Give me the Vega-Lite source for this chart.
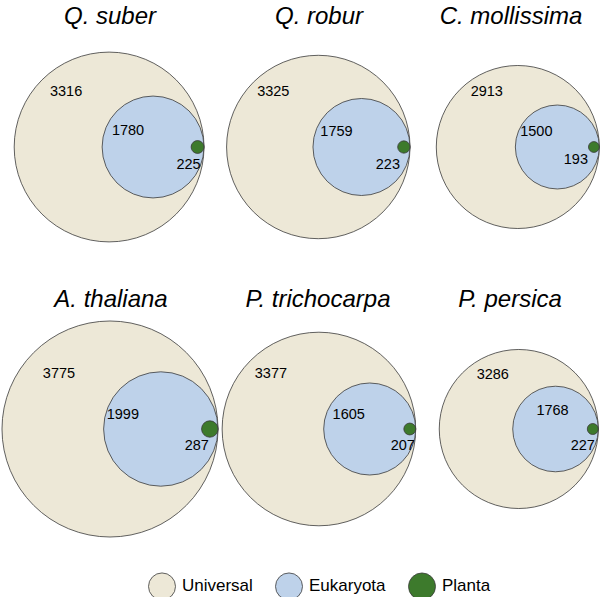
{
  "$schema": "https://vega.github.io/schema/vega-lite/v6.json",
  "padding": {"top": 5, "left": 0, "right": 0, "bottom": 0},
  "background": "white",
  "datasets": {
    "sets": [
      {"species": "Q. suber", "set": "Universal", "count": 3316},
      {"species": "Q. suber", "set": "Eukaryota", "count": 1780},
      {"species": "Q. suber", "set": "Planta", "count": 225},
      {"species": "Q. robur", "set": "Universal", "count": 3325},
      {"species": "Q. robur", "set": "Eukaryota", "count": 1759},
      {"species": "Q. robur", "set": "Planta", "count": 223},
      {"species": "C. mollissima", "set": "Universal", "count": 2913},
      {"species": "C. mollissima", "set": "Eukaryota", "count": 1500},
      {"species": "C. mollissima", "set": "Planta", "count": 193},
      {"species": "A. thaliana", "set": "Universal", "count": 3775},
      {"species": "A. thaliana", "set": "Eukaryota", "count": 1999},
      {"species": "A. thaliana", "set": "Planta", "count": 287},
      {"species": "P. trichocarpa", "set": "Universal", "count": 3377},
      {"species": "P. trichocarpa", "set": "Eukaryota", "count": 1605},
      {"species": "P. trichocarpa", "set": "Planta", "count": 207},
      {"species": "P. persica", "set": "Universal", "count": 3286},
      {"species": "P. persica", "set": "Eukaryota", "count": 1768},
      {"species": "P. persica", "set": "Planta", "count": 227}
    ]
  },
  "data": {"name": "sets"},
  "bounds": "flush",
  "columns": 3,
  "spacing": {"row": 45, "column": 0},
  "resolve": {"scale": {"x": "independent", "size": "independent", "color": "shared"}, "legend": {"color": "shared"}},
  "concat": [
    {
      "width": 200, "height": 238,
      "title": {"text": "Q. suber", "dx": 9},
      "transform": [{"filter": "datum.species === 'Q. suber'"}],
      "encoding": {"x": {"field": "count", "type": "quantitative", "axis": null, "scale": {"domain": [104.8, 7092.9], "reverse": true, "nice": false, "zero": false}}},
      "layer": [
        {"mark": {"type": "point", "shape": "circle", "filled": true, "opacity": 1, "stroke": "#3a3a3a", "strokeWidth": 0.8},
         "encoding": {
           "color": {"field": "set", "type": "nominal", "scale": {"domain": ["Universal", "Eukaryota", "Planta"], "range": ["#ede8d7", "#bed2ea", "#3d7a2c"]}, "legend": {"title": null}},
           "size": {"field": "count", "type": "quantitative", "legend": null, "scale": {"type": "pow", "exponent": 2, "domain": [0, 4000], "range": [0, 52423]}},
           "order": {"field": "count", "sort": "descending"}}},
        {"transform": [{"filter": "datum.set === 'Universal'"}], "mark": {"type": "text", "dx": -43, "dy": -55}, "encoding": {"text": {"field": "count", "type": "quantitative", "format": "d"}}},
        {"transform": [{"filter": "datum.set === 'Eukaryota'"}], "mark": {"type": "text", "dx": -25, "dy": -16}, "encoding": {"text": {"field": "count", "type": "quantitative", "format": "d"}}},
        {"transform": [{"filter": "datum.set === 'Planta'"}], "mark": {"type": "text", "dx": -9, "dy": 18}, "encoding": {"text": {"field": "count", "type": "quantitative", "format": "d"}}}
      ]
    },
    {
      "width": 200, "height": 238,
      "title": {"text": "Q. robur", "dx": 18},
      "transform": [{"filter": "datum.species === 'Q. robur'"}],
      "encoding": {"x": {"field": "count", "type": "quantitative", "axis": null, "scale": {"domain": [326.3, 7577.9], "reverse": true, "nice": false, "zero": false}}},
      "layer": [
        {"mark": {"type": "point", "shape": "circle", "filled": true, "opacity": 1, "stroke": "#3a3a3a", "strokeWidth": 0.8},
         "encoding": {
           "color": {"field": "set", "type": "nominal", "scale": {"domain": ["Universal", "Eukaryota", "Planta"], "range": ["#ede8d7", "#bed2ea", "#3d7a2c"]}, "legend": {"title": null}},
           "size": {"field": "count", "type": "quantitative", "legend": null, "scale": {"type": "pow", "exponent": 2, "domain": [0, 4000], "range": [0, 48682]}},
           "order": {"field": "count", "sort": "descending"}}},
        {"transform": [{"filter": "datum.set === 'Universal'"}], "mark": {"type": "text", "dx": -45, "dy": -55}, "encoding": {"text": {"field": "count", "type": "quantitative", "format": "d"}}},
        {"transform": [{"filter": "datum.set === 'Eukaryota'"}], "mark": {"type": "text", "dx": -25, "dy": -15}, "encoding": {"text": {"field": "count", "type": "quantitative", "format": "d"}}},
        {"transform": [{"filter": "datum.set === 'Planta'"}], "mark": {"type": "text", "dx": -16, "dy": 18}, "encoding": {"text": {"field": "count", "type": "quantitative", "format": "d"}}}
      ]
    },
    {
      "width": 200, "height": 238,
      "title": {"text": "C. mollissima", "dx": 10},
      "transform": [{"filter": "datum.species === 'C. mollissima'"}],
      "encoding": {"x": {"field": "count", "type": "quantitative", "axis": null, "scale": {"domain": [-60.8, 7087.2], "reverse": true, "nice": false, "zero": false}}},
      "layer": [
        {"mark": {"type": "point", "shape": "circle", "filled": true, "opacity": 1, "stroke": "#3a3a3a", "strokeWidth": 0.8},
         "encoding": {
           "color": {"field": "set", "type": "nominal", "scale": {"domain": ["Universal", "Eukaryota", "Planta"], "range": ["#ede8d7", "#bed2ea", "#3d7a2c"]}, "legend": {"title": null}},
           "size": {"field": "count", "type": "quantitative", "legend": null, "scale": {"type": "pow", "exponent": 2, "domain": [0, 4000], "range": [0, 50104]}},
           "order": {"field": "count", "sort": "descending"}}},
        {"transform": [{"filter": "datum.set === 'Universal'"}], "mark": {"type": "text", "dx": -31, "dy": -55}, "encoding": {"text": {"field": "count", "type": "quantitative", "format": "d"}}},
        {"transform": [{"filter": "datum.set === 'Eukaryota'"}], "mark": {"type": "text", "dx": -21, "dy": -15}, "encoding": {"text": {"field": "count", "type": "quantitative", "format": "d"}}},
        {"transform": [{"filter": "datum.set === 'Planta'"}], "mark": {"type": "text", "dx": -18, "dy": 13}, "encoding": {"text": {"field": "count", "type": "quantitative", "format": "d"}}}
      ]
    },
    {
      "width": 200, "height": 236,
      "title": {"text": "A. thaliana", "dx": 10},
      "transform": [{"filter": "datum.species === 'A. thaliana'"}],
      "encoding": {"x": {"field": "count", "type": "quantitative", "axis": null, "scale": {"domain": [594.2, 7584.8], "reverse": true, "nice": false, "zero": false}}},
      "layer": [
        {"mark": {"type": "point", "shape": "circle", "filled": true, "opacity": 1, "stroke": "#3a3a3a", "strokeWidth": 0.8},
         "encoding": {
           "color": {"field": "set", "type": "nominal", "scale": {"domain": ["Universal", "Eukaryota", "Planta"], "range": ["#ede8d7", "#bed2ea", "#3d7a2c"]}, "legend": {"title": null}},
           "size": {"field": "count", "type": "quantitative", "legend": null, "scale": {"type": "pow", "exponent": 2, "domain": [0, 4000], "range": [0, 52386]}},
           "order": {"field": "count", "sort": "descending"}}},
        {"transform": [{"filter": "datum.set === 'Universal'"}], "mark": {"type": "text", "dx": -51, "dy": -55}, "encoding": {"text": {"field": "count", "type": "quantitative", "format": "d"}}},
        {"transform": [{"filter": "datum.set === 'Eukaryota'"}], "mark": {"type": "text", "dx": -38, "dy": -14}, "encoding": {"text": {"field": "count", "type": "quantitative", "format": "d"}}},
        {"transform": [{"filter": "datum.set === 'Planta'"}], "mark": {"type": "text", "dx": -13, "dy": 17}, "encoding": {"text": {"field": "count", "type": "quantitative", "format": "d"}}}
      ]
    },
    {
      "width": 200, "height": 236,
      "title": {"text": "P. trichocarpa", "dx": 17},
      "transform": [{"filter": "datum.species === 'P. trichocarpa'"}],
      "encoding": {"x": {"field": "count", "type": "quantitative", "axis": null, "scale": {"domain": [512.9, 7491.3], "reverse": true, "nice": false, "zero": false}}},
      "layer": [
        {"mark": {"type": "point", "shape": "circle", "filled": true, "opacity": 1, "stroke": "#3a3a3a", "strokeWidth": 0.8},
         "encoding": {
           "color": {"field": "set", "type": "nominal", "scale": {"domain": ["Universal", "Eukaryota", "Planta"], "range": ["#ede8d7", "#bed2ea", "#3d7a2c"]}, "legend": {"title": null}},
           "size": {"field": "count", "type": "quantitative", "legend": null, "scale": {"type": "pow", "exponent": 2, "domain": [0, 4000], "range": [0, 52569]}},
           "order": {"field": "count", "sort": "descending"}}},
        {"transform": [{"filter": "datum.set === 'Universal'"}], "mark": {"type": "text", "dx": -48, "dy": -55}, "encoding": {"text": {"field": "count", "type": "quantitative", "format": "d"}}},
        {"transform": [{"filter": "datum.set === 'Eukaryota'"}], "mark": {"type": "text", "dx": -21, "dy": -14}, "encoding": {"text": {"field": "count", "type": "quantitative", "format": "d"}}},
        {"transform": [{"filter": "datum.set === 'Planta'"}], "mark": {"type": "text", "dx": -7, "dy": 17}, "encoding": {"text": {"field": "count", "type": "quantitative", "format": "d"}}}
      ]
    },
    {
      "width": 200, "height": 236,
      "title": {"text": "P. persica", "dx": 9},
      "transform": [{"filter": "datum.species === 'P. persica'"}],
      "encoding": {"x": {"field": "count", "type": "quantitative", "axis": null, "scale": {"domain": [-111.6, 8152.9], "reverse": true, "nice": false, "zero": false}}},
      "layer": [
        {"mark": {"type": "point", "shape": "circle", "filled": true, "opacity": 1, "stroke": "#3a3a3a", "strokeWidth": 0.8},
         "encoding": {
           "color": {"field": "set", "type": "nominal", "scale": {"domain": ["Universal", "Eukaryota", "Planta"], "range": ["#ede8d7", "#bed2ea", "#3d7a2c"]}, "legend": {"title": null}},
           "size": {"field": "count", "type": "quantitative", "legend": null, "scale": {"type": "pow", "exponent": 2, "domain": [0, 4000], "range": [0, 37481]}},
           "order": {"field": "count", "sort": "descending"}}},
        {"transform": [{"filter": "datum.set === 'Universal'"}], "mark": {"type": "text", "dx": -26, "dy": -54}, "encoding": {"text": {"field": "count", "type": "quantitative", "format": "d"}}},
        {"transform": [{"filter": "datum.set === 'Eukaryota'"}], "mark": {"type": "text", "dx": -3, "dy": -18}, "encoding": {"text": {"field": "count", "type": "quantitative", "format": "d"}}},
        {"transform": [{"filter": "datum.set === 'Planta'"}], "mark": {"type": "text", "dx": -10, "dy": 17}, "encoding": {"text": {"field": "count", "type": "quantitative", "format": "d"}}}
      ]
    }
  ],
  "config": {
    "view": {"stroke": null},
    "font": "Liberation Sans",
    "title": {"fontSize": 24, "fontStyle": "italic", "fontWeight": "normal", "font": "Liberation Sans", "anchor": "middle", "frame": "group", "baseline": "alphabetic", "offset": -1, "color": "black"},
    "text": {"fontSize": 14.5, "font": "Liberation Sans", "color": "black", "align": "center", "baseline": "middle"},
    "legend": {"orient": "none", "legendX": 147, "legendY": 544, "direction": "horizontal", "symbolSize": 729, "symbolType": "circle", "symbolStrokeColor": "#3a3a3a", "symbolStrokeWidth": 0.8, "symbolOpacity": 1, "labelFontSize": 17, "labelFont": "Liberation Sans", "labelColor": "black", "labelOffset": 6, "columnPadding": 20, "padding": 0}
  }
}
